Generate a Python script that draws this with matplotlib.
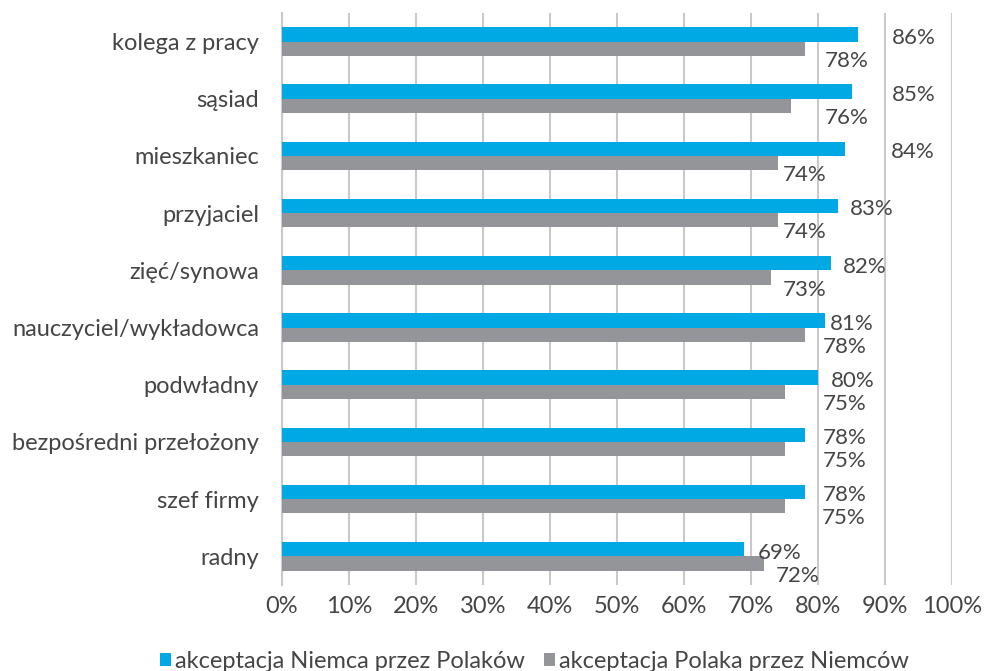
import matplotlib
matplotlib.use("Agg")
import matplotlib.pyplot as plt
from matplotlib.ticker import FuncFormatter

plt.rcParams['font.family'] = ['Lato', 'DejaVu Sans']

categories = ["kolega z pracy", "sąsiad", "mieszkaniec", "przyjaciel", "zięć/synowa",
              "nauczyciel/wykładowca", "podwładny", "bezpośredni przełożony",
              "szef firmy", "radny"]
niemca_przez_polakow = [86, 85, 84, 83, 82, 81, 80, 78, 78, 69]
polaka_przez_niemcow = [78, 76, 74, 74, 73, 78, 75, 75, 75, 72]
series_names = ["akceptacja Niemca przez Polaków", "akceptacja Polaka przez Niemców"]
x_ticks = [0, 10, 20, 30, 40, 50, 60, 70, 80, 90, 100]

# hand-placed value label positions (left edge, in percent)
blue_label_x = [91.0, 91.0, 90.9, 84.8, 83.7, 81.8, 81.9, 80.7, 80.7, 71.0]
gray_label_x = [81.0, 81.0, 74.8, 74.8, 74.8, 80.7, 80.7, 80.7, 80.6, 73.7]

BLUE = "#00A9E4"
GRAY = "#939598"
TEXT = "#454545"
GRID = "#c9c9c9"
FS = 17

fig = plt.figure(figsize=(9.88, 6.71), dpi=100)
ax = fig.add_axes([282 / 988, 1 - 585 / 671, 670 / 988, 572 / 671])

h = 0.25
ys = list(range(len(categories)))
ax.barh([y - h / 2 for y in ys], niemca_przez_polakow, height=h, color=BLUE,
        label=series_names[0], zorder=3)
ax.barh([y + h / 2 for y in ys], polaka_przez_niemcow, height=h, color=GRAY,
        label=series_names[1], zorder=3)

for y, v, lx in zip(ys, niemca_przez_polakow, blue_label_x):
    ax.text(lx, y - h / 2 + 0.06, f"{v}%", va="center", ha="left",
            fontsize=16, color=TEXT)
for y, v, lx in zip(ys, polaka_przez_niemcow, gray_label_x):
    ax.text(lx, y + h / 2 + 0.21, f"{v}%", va="center", ha="left",
            fontsize=16, color=TEXT)

ax.set_xlim(0, 100)
ax.set_ylim(len(categories) - 0.5, -0.5)
ax.set_xticks(x_ticks)
ax.xaxis.set_major_formatter(FuncFormatter(lambda v, p: f"{v:.0f}%"))
ax.set_yticks(ys)
ax.set_yticklabels(categories)
ax.grid(axis="x", color=GRID, linewidth=1.5, zorder=0)
ax.tick_params(axis="both", length=0, labelsize=FS, colors=TEXT)
ax.tick_params(axis="y", pad=16.5)
ax.tick_params(axis="x", pad=8)
for s in ["top", "right", "bottom"]:
    ax.spines[s].set_visible(False)
ax.spines["left"].set_color(GRID)
ax.spines["left"].set_linewidth(1.5)

leg = fig.legend(loc="lower center", bbox_to_anchor=(0.541, -0.033), ncol=2,
                 frameon=False, fontsize=FS, handlelength=0.45, handleheight=0.45,
                 handletextpad=0.18, columnspacing=0.8)
for t in leg.get_texts():
    t.set_color(TEXT)

fig.savefig("out.png", dpi=100)
